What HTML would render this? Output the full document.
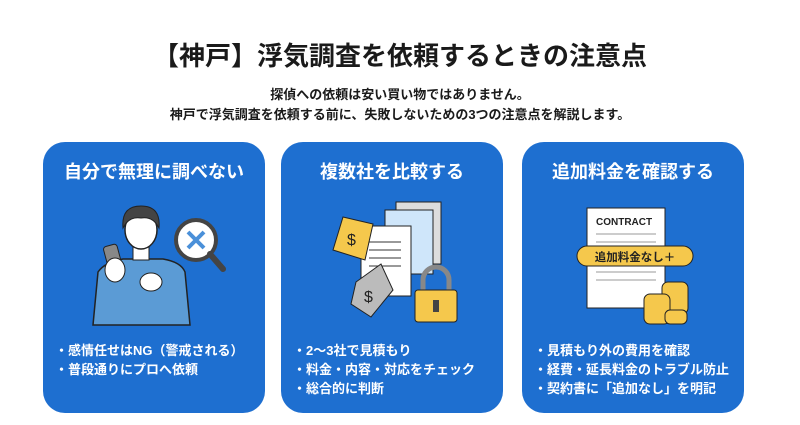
<!DOCTYPE html>
<html><head><meta charset="utf-8"><style>
body{margin:0;width:800px;height:425px;background:#fff;font-family:"Liberation Sans","Noto Sans CJK JP",sans-serif;position:relative;overflow:hidden}
.t{position:absolute;left:0;width:800px;text-align:center;color:#1a1a1a;font-weight:bold}
.card{position:absolute;top:142px;width:222px;height:271px;background:#1e6fd0;border-radius:22px;color:#fff}
.card h2{margin:0;position:absolute;top:16px;left:0;width:100%;text-align:center;font-size:18px;font-weight:bold}
.card ul{position:absolute;left:12px;top:199px;margin:0;padding:0;list-style:none;font-size:13px;font-weight:bold;line-height:19px}
svg{position:absolute;left:0;top:0}
</style></head><body>
<div class="t" style="top:36px;font-size:26px">【神戸】浮気調査を依頼するときの注意点</div>
<div class="t" style="top:84px;font-size:13px">探偵への依頼は安い買い物ではありません。</div>
<div class="t" style="top:104px;font-size:13px">神戸で浮気調査を依頼する前に、失敗しないための3つの注意点を解説します。</div>

<div class="card" style="left:43px">
<h2>自分で無理に調べない</h2>
<svg width="222" height="200">
<path d="M50 183 L55 130 Q62 120 80 117 L100 117 L120 117 Q138 120 142 130 L147 183 Z" fill="#5b9bd5" stroke="#222" stroke-width="1.5"/>
<rect x="90" y="100" width="16" height="18" fill="#fff" stroke="#222"/>
<ellipse cx="98" cy="88" rx="16" ry="19" fill="#fff" stroke="#222" stroke-width="1.5"/>
<path d="M80 86 Q78 64 98 64 Q118 64 116 86 Q110 74 98 76 Q86 74 80 86Z" fill="#444" stroke="#222"/>
<rect x="63" y="103" width="14" height="26" rx="3" fill="#888" stroke="#222" transform="rotate(-15 70 116)"/>
<ellipse cx="72" cy="128" rx="10" ry="12" fill="#fff" stroke="#222"/>
<ellipse cx="108" cy="140" rx="11" ry="9" fill="#fff" stroke="#222"/>
<circle cx="153" cy="98" r="20" fill="#fff" stroke="#444" stroke-width="4"/>
<path d="M145 90 L161 106 M161 90 L145 106" stroke="#4a90d9" stroke-width="4"/>
<path d="M167 112 L180 127" stroke="#444" stroke-width="6" stroke-linecap="round"/>
</svg>
<ul><li>・感情任せはNG（警戒される）</li><li>・普段通りにプロへ依頼</li></ul>
</div>

<div class="card" style="left:281px">
<h2>複数社を比較する</h2>
<svg width="222" height="200">
<rect x="115" y="60" width="45" height="62" fill="#ddd" stroke="#222"/>
<rect x="104" y="68" width="48" height="64" fill="#cfe6fa" stroke="#222"/>
<rect x="80" y="84" width="50" height="70" fill="#fff" stroke="#222"/>
<path d="M88 100h32M88 108h32M88 116h32M88 124h32" stroke="#333"/>
<path d="M62 75 L92 82 L84 118 L52 108 Z" fill="#f5c84c" stroke="#222"/>
<text x="66" y="103" font-size="16" fill="#222" font-family="Liberation Sans">$</text>
<path d="M75 140 L100 122 L112 148 L90 175 L70 162Z" fill="#bbb" stroke="#222"/>
<text x="83" y="160" font-size="16" fill="#222" font-family="Liberation Sans">$</text>
<path d="M142 148 v-10 a13 13 0 0 1 26 0 v10" fill="none" stroke="#888" stroke-width="5"/>
<rect x="134" y="148" width="42" height="32" rx="3" fill="#f5c84c" stroke="#222"/>
<rect x="152" y="158" width="6" height="12" fill="#444"/>
</svg>
<ul><li>・2〜3社で見積もり</li><li>・料金・内容・対応をチェック</li><li>・総合的に判断</li></ul>
</div>

<div class="card" style="left:522px">
<h2>追加料金を確認する</h2>
<svg width="222" height="200">
<rect x="65" y="66" width="78" height="100" fill="#fff" stroke="#222"/>
<text x="74" y="83" font-size="10" font-weight="bold" fill="#222" font-family="Liberation Sans">CONTRACT</text>
<path d="M74 92h60M74 100h60M74 130h60M74 138h60" stroke="#999"/>
<rect x="55" y="104" width="116" height="20" rx="10" fill="#f5c84c" stroke="#222"/>
<text x="113" y="119" font-size="11.5" font-weight="bold" fill="#222" text-anchor="middle" font-family="Liberation Sans,Noto Sans CJK JP">追加料金なし＋</text>
<g fill="#f5c84c" stroke="#222">
<rect x="140" y="140" width="26" height="32" rx="6"/><rect x="122" y="152" width="26" height="30" rx="6"/><rect x="143" y="168" width="22" height="14" rx="5"/></g>
</svg>
<ul><li>・見積もり外の費用を確認</li><li>・経費・延長料金のトラブル防止</li><li>・契約書に「追加なし」を明記</li></ul>
</div>
</body></html>
